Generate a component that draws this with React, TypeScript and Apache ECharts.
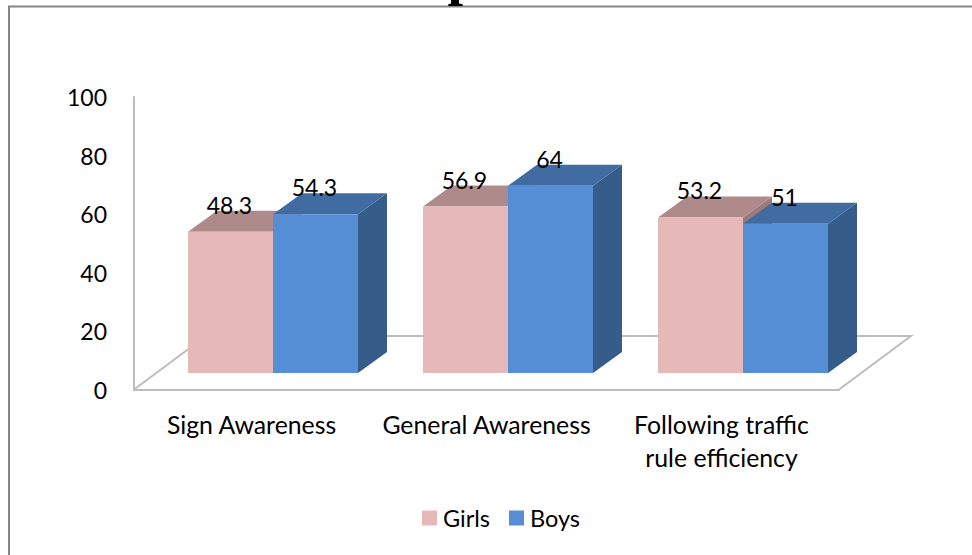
import React, { useEffect, useRef } from "react";
import * as echarts from "echarts";

const categories = ["Sign Awareness", "General Awareness", "Following traffic\nrule efficiency"];
const girls = [48.3, 56.9, 53.2];
const boys = [54.3, 64, 51];
const yTicksMax = 100;
const yInterval = 20;

const FONT = "Lato";
const GRID = { left: 134, top: 97, width: 705, height: 292.5 };
const FRONT = { dx: 21.5, dy: -16.5 };
const DEPTH = { dx: 29, dy: -21 };
const BAR_FRACTION = 85 / 235;

function makeRender(side: -1 | 0, front: string, top: string, right: string) {
  return (params: any, api: any) => {
    const cat = api.value(0);
    const val = api.value(1);
    const base = api.coord([cat, 0]);
    const peak = api.coord([cat, val]);
    const w = api.size([1, 0])[0] * BAR_FRACTION;
    const x0 = base[0] + FRONT.dx + side * w;
    const x1 = x0 + w;
    const y0 = base[1] + FRONT.dy;
    const y1 = peak[1] + FRONT.dy;
    const d = DEPTH;
    return {
      type: "group",
      children: [
        {
          type: "polygon",
          shape: { points: [[x1, y0], [x1 + d.dx, y0 + d.dy], [x1 + d.dx, y1 + d.dy], [x1, y1]] },
          style: { fill: right },
        },
        {
          type: "polygon",
          shape: { points: [[x0, y1], [x1, y1], [x1 + d.dx, y1 + d.dy], [x0 + d.dx, y1 + d.dy]] },
          style: { fill: top },
        },
        {
          type: "polygon",
          shape: { points: [[x0, y0], [x1, y0], [x1, y1], [x0, y1]] },
          style: { fill: front },
        },
        {
          type: "text",
          z2: 100,
          style: {
            x: (x0 + x1) / 2 - 1,
            y: y1 - 27,
            text: String(val),
            fill: "#000",
            font: `23px ${FONT}`,
            textAlign: "center",
            textVerticalAlign: "middle",
          },
        },
      ],
    };
  };
}

export default function App() {
  const ref = useRef<HTMLDivElement>(null);
  useEffect(() => {
    const chart = echarts.init(ref.current!, null, { renderer: "svg" });
    chart.setOption({
      animation: false,
      backgroundColor: "#fff",
      textStyle: { fontFamily: FONT },
      grid: { ...GRID, containLabel: false },
      legend: {
        data: ["Girls", "Boys"],
        left: 422,
        top: 506,
        padding: 0,
        itemWidth: 15,
        itemHeight: 15,
        itemGap: 19,
        icon: "rect",
        textStyle: { fontFamily: FONT, fontSize: 23.5, color: "#000", padding: [0, 0, 0, 1] },
      },
      xAxis: {
        type: "category",
        data: categories,
        axisTick: { show: false },
        axisLine: { show: true, onZero: false, lineStyle: { color: "#bdbdbd", width: 2 } },
        axisLabel: { color: "#000", fontFamily: FONT, fontSize: 24.8, lineHeight: 33, margin: 18, interval: 0 },
        splitLine: { show: false },
      },
      yAxis: {
        type: "value",
        min: 0,
        max: yTicksMax,
        interval: yInterval,
        axisTick: { show: false },
        axisLine: { show: true, lineStyle: { color: "#bdbdbd", width: 2 } },
        axisLabel: { color: "#000", fontFamily: FONT, fontSize: 23, margin: 27 },
        splitLine: { show: false },
      },
      graphic: [
        {
          type: "rect",
          z: 0,
          silent: true,
          shape: { x: 9, y: 6.5, width: 1000, height: 600 },
          style: { fill: "none", stroke: "#868686", lineWidth: 2 },
        },
        {
          type: "text",
          z: 0,
          silent: true,
          x: 463,
          y: 3,
          style: {
            text: "p",
            font: 'bold 56px "Liberation Serif"',
            fill: "#000",
            textAlign: "center",
            textVerticalAlign: "bottom",
          },
        },
        {
          type: "polyline",
          z: 0,
          silent: true,
          shape: { points: [[134, 389.5], [206, 336], [911, 336], [839, 389.5]] },
          style: { fill: "none", stroke: "#bdbdbd", lineWidth: 2 },
        },
      ],
      series: [
        {
          name: "Girls",
          type: "custom",
          itemStyle: { color: "#E6B9B8" },
          data: girls.map((v, i) => [i, v]),
          encode: { x: 0, y: 1 },
          renderItem: makeRender(-1, "#E6B9B8", "#AE8B8A", "#9A7B7A"),
        },
        {
          name: "Boys",
          type: "custom",
          itemStyle: { color: "#558ED5" },
          data: boys.map((v, i) => [i, v]),
          encode: { x: 0, y: 1 },
          renderItem: makeRender(0, "#558ED5", "#406CA1", "#365C8A"),
        },
      ],
    });
    return () => chart.dispose();
  }, []);
  return <div ref={ref} style={{ position: "absolute", left: 0, top: 0, width: 972, height: 555 }} />;
}
